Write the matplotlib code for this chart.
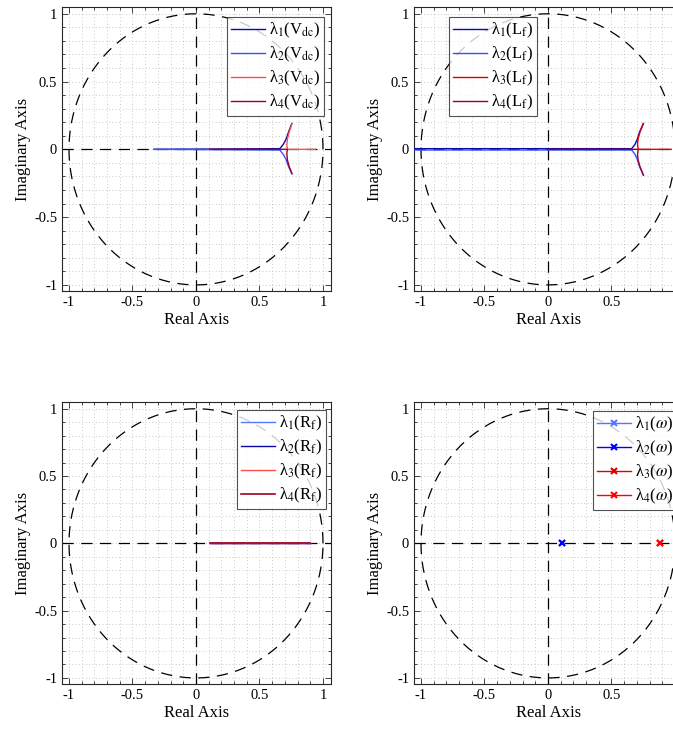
import numpy as np
import matplotlib
matplotlib.use("Agg")
import matplotlib.pyplot as plt
from matplotlib.ticker import MultipleLocator

plt.rcParams['font.family'] = ['Liberation Serif', 'DejaVu Serif']
plt.rcParams['mathtext.fontset'] = 'stix'
plt.rcParams['axes.unicode_minus'] = False

# ---------------- data ----------------
ticks = [-1, -0.5, 0, 0.5, 1]
tick_labels = ['-1', '-0.5', '0', '0.5', '1']
tick_labels_right = ['-1', '-0.5', '0', '0.5', '']

# Vdc sweep
vdc_l1_x = [-0.33, 0.66, 0.687, 0.709, 0.727, 0.754]
vdc_l1_y = [0.0, 0.005, 0.037, 0.074, 0.123, 0.19]
vdc_l2_x = [-0.33, 0.66, 0.687, 0.709, 0.727, 0.754]
vdc_l2_y = [0.0, -0.005, -0.037, -0.074, -0.123, -0.18]
vdc_l3_x = [0.94, 0.72, 0.715, 0.72, 0.735, 0.756]
vdc_l3_y = [0.0, 0.0, 0.03, 0.08, 0.13, 0.19]
vdc_l4_x = [0.11, 0.72, 0.715, 0.72, 0.735, 0.756]
vdc_l4_y = [0.0, 0.0, -0.03, -0.08, -0.13, -0.18]

# Lf sweep
lf_l1_x = [-1.10, 0.659, 0.685, 0.703, 0.719, 0.75]
lf_l1_y = [0.005, 0.005, 0.037, 0.074, 0.123, 0.19]
lf_l2_x = [-1.10, 0.659, 0.685, 0.703, 0.719, 0.75]
lf_l2_y = [-0.005, -0.005, -0.037, -0.074, -0.123, -0.19]
lf_l3_x = [0.97, 0.71, 0.705, 0.71, 0.725, 0.752]
lf_l3_y = [0.0, 0.0, 0.04, 0.08, 0.13, 0.19]
lf_l4_x = [0.0, 0.71, 0.705, 0.71, 0.725, 0.752]
lf_l4_y = [0.0, 0.0, -0.04, -0.08, -0.13, -0.19]

# Rf sweep
rf_x = [0.11, 0.90]
rf_y = [0.0, 0.0]

# omega sweep (single points)
w_l12_x = [0.11]
w_l34_x = [0.885]
w_y = [0.0]

# ---------------- styling ----------------
XL = (-1.055, 1.063)
YL = (-1.045, 1.05)
W, H = 673, 732


def base(ax, xlabels):
    ax.set_xlim(*XL)
    ax.set_ylim(*YL)
    th = np.linspace(0, 2 * np.pi, 400)
    ax.plot(np.cos(th), np.sin(th), color='k', lw=0.9, ls=(0, (9, 6)), zorder=2)
    ax.plot(XL, [0, 0], color='k', lw=0.9, ls=(0, (9, 6)), zorder=2)
    ax.plot([0, 0], YL, color='k', lw=0.9, ls=(0, (9, 6)), zorder=2)
    ax.set_xticks(ticks)
    ax.set_xticklabels(xlabels)
    ax.set_yticks(ticks)
    ax.set_yticklabels(tick_labels)
    ax.xaxis.set_minor_locator(MultipleLocator(0.1))
    ax.yaxis.set_minor_locator(MultipleLocator(0.1))
    ax.tick_params(which='both', direction='in', top=True, right=True,
                   labelsize=10.5, color='#262626', width=0.6)
    ax.tick_params(which='major', length=4)
    ax.tick_params(which='minor', length=2)
    ax.grid(which='both', color='#b8b8b8', ls=(0, (1, 3)), lw=0.6)
    ax.set_axisbelow(True)
    for s in ax.spines.values():
        s.set_color('#262626')
        s.set_linewidth(0.8)
    ax.set_xlabel('Real Axis', fontsize=12, labelpad=2)
    ax.set_ylabel('Imaginary Axis', fontsize=12, labelpad=2)


def leg(ax, loc_px, fig):
    l = ax.legend(loc='upper left',
                  bbox_to_anchor=(loc_px[0] / W, 1 - loc_px[1] / H),
                  bbox_transform=fig.transFigure,
                  fontsize=12, frameon=True, fancybox=False,
                  edgecolor='#262626', handlelength=2.0, handletextpad=0.25,
                  borderpad=0.25, labelspacing=0.28, borderaxespad=0)
    l.get_frame().set_linewidth(0.8)
    return l


fig = plt.figure(figsize=(W / 100, H / 100), dpi=100)
pos_tl = [62 / W, 1 - 291 / H, 269 / W, 284 / H]
pos_tr = [414 / W, 1 - 291 / H, 269 / W, 284 / H]
pos_bl = [62 / W, 1 - 684 / H, 269 / W, 282 / H]
pos_br = [414 / W, 1 - 684 / H, 269 / W, 282 / H]

c_navy = '#0a0aa8'
c_blue = '#3355ff'
c_lblue = '#5577ff'
c_lred = '#ff4d4d'
c_red = '#e00000'
c_dred = '#a00020'


def lab(i, sub):
    return 'λ$_{%d}$(%s$_{\\mathrm{%s}}$)' % (i, sub[0], sub[1:])


# Top-left: Vdc
ax = fig.add_axes(pos_tl)
base(ax, tick_labels)
ax.plot(vdc_l1_x, vdc_l1_y, color=c_navy, lw=1, label=lab(1, 'Vdc'), zorder=3)
ax.plot(vdc_l2_x, vdc_l2_y, color=c_blue, lw=1, label=lab(2, 'Vdc'), zorder=3)
ax.plot(vdc_l3_x, vdc_l3_y, color=c_lred, lw=1, label=lab(3, 'Vdc'), zorder=3)
ax.plot(vdc_l4_x, vdc_l4_y, color=c_dred, lw=1, label=lab(4, 'Vdc'), zorder=3)
leg(ax, (227, 17), fig)

# Top-right: Lf
ax = fig.add_axes(pos_tr)
base(ax, tick_labels_right)
ax.plot(lf_l1_x, lf_l1_y, color=c_navy, lw=1, label=lab(1, 'Lf'), zorder=3)
ax.plot(lf_l2_x, lf_l2_y, color=c_blue, lw=1, label=lab(2, 'Lf'), zorder=3)
ax.plot(lf_l3_x, lf_l3_y, color=c_red, lw=1, label=lab(3, 'Lf'), zorder=3)
ax.plot(lf_l4_x, lf_l4_y, color=c_dred, lw=1, label=lab(4, 'Lf'), zorder=3)
leg(ax, (449, 17), fig)

# Bottom-left: Rf
ax = fig.add_axes(pos_bl)
base(ax, tick_labels)
ax.plot(rf_x, rf_y, color=c_lblue, lw=1, label=lab(1, 'Rf'), zorder=3)
ax.plot(rf_x, rf_y, color=c_navy, lw=1, label=lab(2, 'Rf'), zorder=3)
ax.plot(rf_x, rf_y, color=c_lred, lw=1, label=lab(3, 'Rf'), zorder=3)
ax.plot(rf_x, rf_y, color=c_dred, lw=1.2, label=lab(4, 'Rf'), zorder=3)
leg(ax, (237, 410), fig)

# Bottom-right: omega
ax = fig.add_axes(pos_br)
base(ax, tick_labels_right)
ax.plot(w_l12_x, w_y, color=c_lblue, lw=1, marker='x', ms=5, mew=1.5, label=r'λ$_{1}$($\omega$)', zorder=3)
ax.plot(w_l12_x, w_y, color='#0000ff', lw=1, marker='x', ms=5, mew=1.5, label=r'λ$_{2}$($\omega$)', zorder=3)
ax.plot(w_l34_x, w_y, color=c_red, lw=1, marker='x', ms=5, mew=1.5, label=r'λ$_{3}$($\omega$)', zorder=3)
ax.plot(w_l34_x, w_y, color='#ff0000', lw=1, marker='x', ms=5, mew=1.5, label=r'λ$_{4}$($\omega$)', zorder=3)
leg(ax, (593, 411), fig)

fig.savefig('out.png', dpi=100)
